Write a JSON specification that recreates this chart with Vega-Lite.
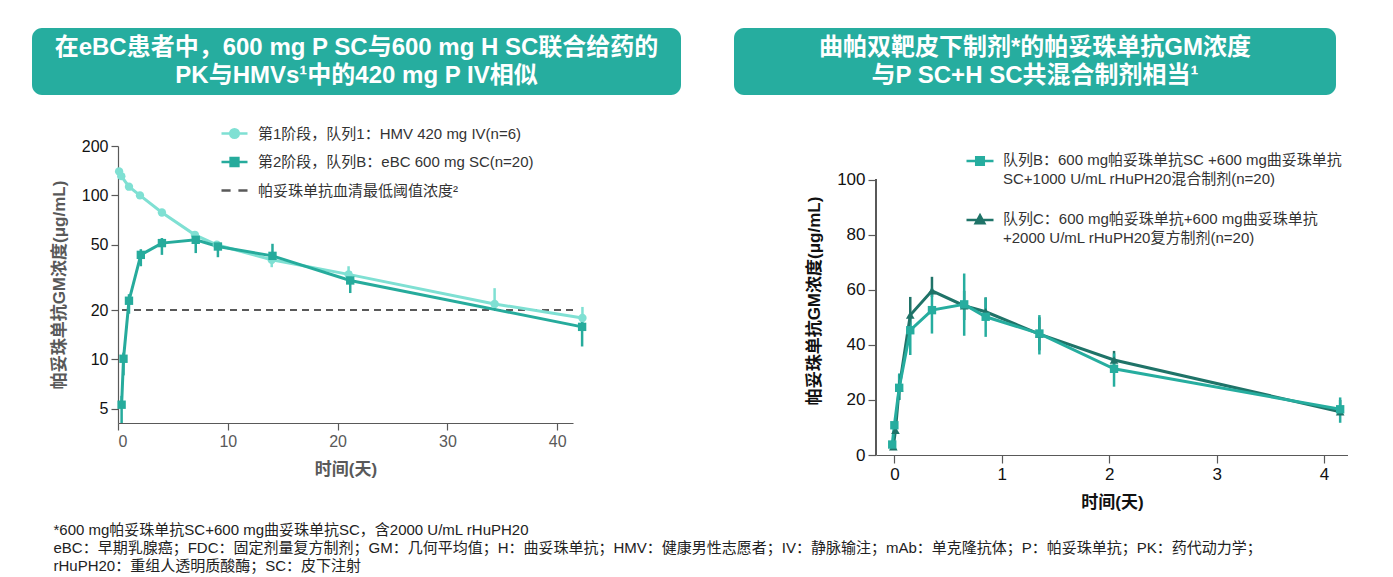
{
  "$schema": "https://vega.github.io/schema/vega-lite/v6.json",
  "padding": {"left": 31, "top": 28, "right": 0, "bottom": 0},
  "background": "white",
  "config": {
    "font": "Liberation Sans, Noto Sans CJK SC",
    "view": {"stroke": null},
    "axis": {"grid": false, "domainColor": "#595959", "tickColor": "#595959", "domainWidth": 1.2, "tickWidth": 1.2}
  },
  "title": {
    "text": ["*600 mg帕妥珠单抗SC+600 mg曲妥珠单抗SC，含2000 U/mL rHuPH20", "eBC：早期乳腺癌；FDC：固定剂量复方制剂；GM：几何平均值；H：曲妥珠单抗；HMV：健康男性志愿者；IV：静脉输注；mAb：单克隆抗体；P：帕妥珠单抗；PK：药代动力学；", "rHuPH20：重组人透明质酸酶；SC：皮下注射"],
    "orient": "bottom", "anchor": "start", "fontSize": 15, "fontWeight": "normal", "color": "#222", "lineHeight": 18, "offset": 13, "dx": 22
  },
  "spacing": 24,
  "resolve": {"scale": {"color": "independent", "shape": "independent"}, "legend": {"color": "independent", "shape": "independent"}},
  "vconcat": [
    {
      "hconcat": [
        {
          "width": 649, "height": 67,
          "view": {"fill": "#26ad9f", "cornerRadius": 10, "stroke": null},
          "data": {"values": [{"t": "在eBC患者中，600 mg P SC与600 mg H SC联合给药的\nPK与HMVs¹中的420 mg P IV相似"}]},
          "mark": {"type": "text", "lineBreak": "\n", "fontSize": 24, "fontWeight": "bold", "color": "white", "lineHeight": 28, "align": "center", "baseline": "middle", "dy": -14},
          "encoding": {"text": {"field": "t", "type": "nominal"}}
        },
        {
          "width": 602, "height": 67,
          "view": {"fill": "#26ad9f", "cornerRadius": 10, "stroke": null},
          "data": {"values": [{"t": "曲帕双靶皮下制剂*的帕妥珠单抗GM浓度\n与P SC+H SC共混合制剂相当¹"}]},
          "mark": {"type": "text", "lineBreak": "\n", "fontSize": 24, "fontWeight": "bold", "color": "white", "lineHeight": 28, "align": "center", "baseline": "middle", "dy": -14},
          "encoding": {"text": {"field": "t", "type": "nominal"}}
        }
      ],
      "spacing": 53
    },
    {
      "spacing": 0,
      "resolve": {"scale": {"color": "independent", "shape": "independent"}, "legend": {"color": "independent", "shape": "independent"}},
      "hconcat": [
        {"width": 18, "height": 1, "data": {"values": [{}]}, "mark": {"type": "rule", "opacity": 0}, "encoding": {}},
        {
          "spacing": 216,
          "resolve": {"scale": {"color": "independent", "shape": "independent"}, "legend": {"color": "independent", "shape": "independent"}},
          "hconcat": [
            {
              "width": 455, "height": 277,
              "data": {"values": [
                {"series": "第1阶段，队列1：HMV 420 mg IV(n=6)", "day": 0.1, "conc": 140},
                {"series": "第1阶段，队列1：HMV 420 mg IV(n=6)", "day": 0.3, "conc": 131},
                {"series": "第1阶段，队列1：HMV 420 mg IV(n=6)", "day": 1, "conc": 113},
                {"series": "第1阶段，队列1：HMV 420 mg IV(n=6)", "day": 2, "conc": 100},
                {"series": "第1阶段，队列1：HMV 420 mg IV(n=6)", "day": 4, "conc": 78.6},
                {"series": "第1阶段，队列1：HMV 420 mg IV(n=6)", "day": 7, "conc": 57.5},
                {"series": "第1阶段，队列1：HMV 420 mg IV(n=6)", "day": 9, "conc": 50},
                {"series": "第1阶段，队列1：HMV 420 mg IV(n=6)", "day": 14, "conc": 40.5, "lo": 36.5, "hi": 43},
                {"series": "第1阶段，队列1：HMV 420 mg IV(n=6)", "day": 21, "conc": 33, "lo": 30, "hi": 37},
                {"series": "第1阶段，队列1：HMV 420 mg IV(n=6)", "day": 34.3, "conc": 21.8, "lo": 20, "hi": 27.2},
                {"series": "第1阶段，队列1：HMV 420 mg IV(n=6)", "day": 42.3, "conc": 17.9, "lo": 15.5, "hi": 20.9},
                {"series": "第2阶段，队列B：eBC 600 mg SC(n=20)", "day": 0.33, "conc": 5.3, "lo": 4.1, "hi": 6},
                {"series": "第2阶段，队列B：eBC 600 mg SC(n=20)", "day": 0.5, "conc": 10.1, "lo": 8, "hi": 11},
                {"series": "第2阶段，队列B：eBC 600 mg SC(n=20)", "day": 1.0, "conc": 22.8, "lo": 19, "hi": 25},
                {"series": "第2阶段，队列B：eBC 600 mg SC(n=20)", "day": 2.08, "conc": 43.4, "lo": 37, "hi": 47},
                {"series": "第2阶段，队列B：eBC 600 mg SC(n=20)", "day": 4.0, "conc": 51.2, "lo": 43.4, "hi": 55},
                {"series": "第2阶段，队列B：eBC 600 mg SC(n=20)", "day": 7.08, "conc": 53.6, "lo": 44.5, "hi": 57.5},
                {"series": "第2阶段，队列B：eBC 600 mg SC(n=20)", "day": 9.1, "conc": 48.8, "lo": 42, "hi": 52.4},
                {"series": "第2阶段，队列B：eBC 600 mg SC(n=20)", "day": 14.07, "conc": 42.8, "lo": 38.6, "hi": 50.7},
                {"series": "第2阶段，队列B：eBC 600 mg SC(n=20)", "day": 21.15, "conc": 30.3, "lo": 25.4, "hi": 34.4},
                {"series": "第2阶段，队列B：eBC 600 mg SC(n=20)", "day": 42.27, "conc": 15.8, "lo": 12.0, "hi": 17.5}
              ]},
              "encoding": {
                "x": {"field": "day", "type": "quantitative", "title": "时间(天)",
                  "scale": {"domain": [0, 41.44], "nice": false, "zero": false},
                  "axis": {"values": [0, 10, 20, 30, 40], "labelFontSize": 16, "labelColor": "#595959", "titleFontSize": 17, "titleFontWeight": "bold", "titleColor": "#595959", "tickSize": 7, "labelPadding": 3, "titlePadding": 12}},
                "y": {"field": "conc", "type": "quantitative", "title": "帕妥珠单抗GM浓度(μg/mL)",
                  "scale": {"type": "log", "domain": [4.1, 200], "nice": false},
                  "axis": {"values": [5, 10, 20, 50, 100, 200], "labelFontSize": 16, "labelColor": "#111", "titleFontSize": 17, "titleFontWeight": "bold", "titleColor": "#595959", "tickSize": 7, "labelPadding": 3, "titlePadding": 13}},
                "color": {"field": "series", "type": "nominal",
                  "scale": {"domain": ["第1阶段，队列1：HMV 420 mg IV(n=6)", "第2阶段，队列B：eBC 600 mg SC(n=20)", "帕妥珠单抗血清最低阈值浓度²"], "range": ["#7fe0d3", "#26ab9c", "#595959"]}}
              },
              "layer": [
                {
                  "data": {"values": [{"series": "帕妥珠单抗血清最低阈值浓度²", "conc": 20}]},
                  "mark": {"type": "rule", "strokeDash": [7, 5], "strokeWidth": 2},
                  "encoding": {"x": null}
                },
                {
                  "mark": {"type": "rule", "strokeWidth": 2.5},
                  "encoding": {
                    "y": {"field": "lo", "type": "quantitative", "title": "帕妥珠单抗GM浓度(μg/mL)"},
                    "y2": {"field": "hi"}
                  }
                },
                {
                  "mark": {"type": "line", "strokeWidth": 3},
                  "encoding": {
                    "color": {"field": "series", "type": "nominal",
                      "legend": {"orient": "none", "legendX": 102, "legendY": -27, "direction": "vertical", "title": null, "labelFontSize": 15, "labelColor": "#333", "symbolSize": 676, "symbolStrokeWidth": 2.5, "labelOffset": 9, "rowPadding": 4.5, "labelLimit": 600,
                        "encode": {"symbols": {"update": {
                          "shape": {"signal": "datum.value === '第1阶段，队列1：HMV 420 mg IV(n=6)' ? 'M-1,0H1M0.33,0A0.33,0.33,0,1,1,-0.33,0A0.33,0.33,0,1,1,0.33,0Z' : datum.value === '第2阶段，队列B：eBC 600 mg SC(n=20)' ? 'M-1,0H1M-0.3,-0.3H0.3V0.3H-0.3Z' : 'M-1,0H-0.3M0.3,0H1'"},
                          "fill": {"signal": "datum.value === '第1阶段，队列1：HMV 420 mg IV(n=6)' ? '#7fe0d3' : datum.value === '第2阶段，队列B：eBC 600 mg SC(n=20)' ? '#26ab9c' : 'transparent'"},
                          "stroke": {"signal": "datum.value === '第1阶段，队列1：HMV 420 mg IV(n=6)' ? '#7fe0d3' : datum.value === '第2阶段，队列B：eBC 600 mg SC(n=20)' ? '#26ab9c' : '#595959'"},
                          "strokeWidth": {"value": 2.5},
                          "opacity": {"value": 1}
                        }}}}}
                  }
                },
                {
                  "mark": {"type": "point", "filled": true, "opacity": 1, "size": 70},
                  "encoding": {
                    "shape": {"field": "series", "type": "nominal", "scale": {"domain": ["第1阶段，队列1：HMV 420 mg IV(n=6)", "第2阶段，队列B：eBC 600 mg SC(n=20)"], "range": ["circle", "square"]}, "legend": null}
                  }
                }
              ]
            },
            {
              "width": 472, "height": 309,
              "data": {"values": [
                {"cohort": "队列C：600 mg帕妥珠单抗+600 mg曲妥珠单抗\n+2000 U/mL  rHuPH20复方制剂(n=20)", "day": -0.01, "conc": 3.0},
                {"cohort": "队列C：600 mg帕妥珠单抗+600 mg曲妥珠单抗\n+2000 U/mL  rHuPH20复方制剂(n=20)", "day": 0.01, "conc": 9.0},
                {"cohort": "队列C：600 mg帕妥珠单抗+600 mg曲妥珠单抗\n+2000 U/mL  rHuPH20复方制剂(n=20)", "day": 0.045, "conc": 24.4, "lo": 20, "hi": 29},
                {"cohort": "队列C：600 mg帕妥珠单抗+600 mg曲妥珠单抗\n+2000 U/mL  rHuPH20复方制剂(n=20)", "day": 0.148, "conc": 50.8, "lo": 44, "hi": 57.4},
                {"cohort": "队列C：600 mg帕妥珠单抗+600 mg曲妥珠单抗\n+2000 U/mL  rHuPH20复方制剂(n=20)", "day": 0.35, "conc": 59.6, "lo": 57.4, "hi": 64.7},
                {"cohort": "队列C：600 mg帕妥珠单抗+600 mg曲妥珠单抗\n+2000 U/mL  rHuPH20复方制剂(n=20)", "day": 0.65, "conc": 54.2, "lo": 49, "hi": 59.6},
                {"cohort": "队列C：600 mg帕妥珠单抗+600 mg曲妥珠单抗\n+2000 U/mL  rHuPH20复方制剂(n=20)", "day": 0.85, "conc": 52, "lo": 50, "hi": 57.2},
                {"cohort": "队列C：600 mg帕妥珠单抗+600 mg曲妥珠单抗\n+2000 U/mL  rHuPH20复方制剂(n=20)", "day": 1.35, "conc": 43.9, "lo": 38, "hi": 50},
                {"cohort": "队列C：600 mg帕妥珠单抗+600 mg曲妥珠单抗\n+2000 U/mL  rHuPH20复方制剂(n=20)", "day": 2.045, "conc": 34.5, "lo": 32, "hi": 37.8},
                {"cohort": "队列C：600 mg帕妥珠单抗+600 mg曲妥珠单抗\n+2000 U/mL  rHuPH20复方制剂(n=20)", "day": 4.15, "conc": 15.7, "lo": 15, "hi": 20},
                {"cohort": "队列B：600 mg帕妥珠单抗SC +600 mg曲妥珠单抗\nSC+1000 U/mL  rHuPH20混合制剂(n=20)", "day": -0.02, "conc": 3.8},
                {"cohort": "队列B：600 mg帕妥珠单抗SC +600 mg曲妥珠单抗\nSC+1000 U/mL  rHuPH20混合制剂(n=20)", "day": 0.0, "conc": 10.8},
                {"cohort": "队列B：600 mg帕妥珠单抗SC +600 mg曲妥珠单抗\nSC+1000 U/mL  rHuPH20混合制剂(n=20)", "day": 0.045, "conc": 24.4, "lo": 20, "hi": 29.6},
                {"cohort": "队列B：600 mg帕妥珠单抗SC +600 mg曲妥珠单抗\nSC+1000 U/mL  rHuPH20混合制剂(n=20)", "day": 0.148, "conc": 45.3, "lo": 36.3, "hi": 50},
                {"cohort": "队列B：600 mg帕妥珠单抗SC +600 mg曲妥珠单抗\nSC+1000 U/mL  rHuPH20混合制剂(n=20)", "day": 0.35, "conc": 52.6, "lo": 44.1, "hi": 60.5},
                {"cohort": "队列B：600 mg帕妥珠单抗SC +600 mg曲妥珠单抗\nSC+1000 U/mL  rHuPH20混合制剂(n=20)", "day": 0.65, "conc": 54.7, "lo": 43.3, "hi": 65.9},
                {"cohort": "队列B：600 mg帕妥珠单抗SC +600 mg曲妥珠单抗\nSC+1000 U/mL  rHuPH20混合制剂(n=20)", "day": 0.85, "conc": 50.2, "lo": 42.9, "hi": 57.2},
                {"cohort": "队列B：600 mg帕妥珠单抗SC +600 mg曲妥珠单抗\nSC+1000 U/mL  rHuPH20混合制剂(n=20)", "day": 1.35, "conc": 44.1, "lo": 36.5, "hi": 50.8},
                {"cohort": "队列B：600 mg帕妥珠单抗SC +600 mg曲妥珠单抗\nSC+1000 U/mL  rHuPH20混合制剂(n=20)", "day": 2.045, "conc": 31.3, "lo": 24.8, "hi": 36.9},
                {"cohort": "队列B：600 mg帕妥珠单抗SC +600 mg曲妥珠单抗\nSC+1000 U/mL  rHuPH20混合制剂(n=20)", "day": 4.15, "conc": 16.6, "lo": 11.7, "hi": 20.9}
              ]},
              "encoding": {
                "x": {"field": "day", "type": "quantitative", "title": "时间(天)",
                  "scale": {"domain": [-0.171, 4.223], "nice": false, "zero": false},
                  "axis": {"values": [0, 1, 2, 3, 4], "labelFontSize": 17, "labelColor": "#111", "titleFontSize": 17, "titleFontWeight": "bold", "titleColor": "#111", "tickSize": 8, "labelPadding": 3, "titlePadding": 12}},
                "y": {"field": "conc", "type": "quantitative", "title": "帕妥珠单抗GM浓度(μg/mL)",
                  "scale": {"domain": [0, 112.2], "nice": false},
                  "axis": {"values": [0, 20, 40, 60, 80, 100], "domain": false, "labelFontSize": 17, "labelColor": "#111", "titleFontSize": 17, "titleFontWeight": "bold", "titleColor": "#111", "tickSize": 8, "labelPadding": 3, "titlePadding": 13}},
                "color": {"field": "cohort", "type": "nominal",
                  "scale": {"domain": ["队列B：600 mg帕妥珠单抗SC +600 mg曲妥珠单抗\nSC+1000 U/mL  rHuPH20混合制剂(n=20)", "队列C：600 mg帕妥珠单抗+600 mg曲妥珠单抗\n+2000 U/mL  rHuPH20复方制剂(n=20)"], "range": ["#26ad9f", "#1f7368"]}}
              },
              "layer": [
                {
                  "mark": {"type": "rule", "color": "#595959", "strokeWidth": 1.2},
                  "encoding": {"x": {"datum": -0.171, "type": "quantitative"}, "y": {"datum": 0, "type": "quantitative"}, "y2": {"datum": 100}, "color": null}
                },
                {
                  "mark": {"type": "rule", "strokeWidth": 2.5},
                  "encoding": {
                    "y": {"field": "lo", "type": "quantitative", "title": "帕妥珠单抗GM浓度(μg/mL)"},
                    "y2": {"field": "hi"}
                  }
                },
                {
                  "mark": {"type": "line", "strokeWidth": 3},
                  "encoding": {
                    "color": {"field": "cohort", "type": "nominal",
                      "legend": {"orient": "none", "legendX": 89, "legendY": 0, "direction": "vertical", "title": null, "labelFontSize": 15, "labelColor": "#333", "symbolSize": 729, "symbolStrokeWidth": 2.5, "labelOffset": 8, "rowPadding": 18, "labelLimit": 600, "labelExpr": "split(datum.label, '\\n')", "labelBaseline": "top",
                        "encode": {
                          "labels": {"update": {"dy": {"value": -8}, "lineHeight": {"value": 19}}},
                          "symbols": {"update": {
                          "shape": {"signal": "datum.value === '队列C：600 mg帕妥珠单抗+600 mg曲妥珠单抗\\n+2000 U/mL  rHuPH20复方制剂(n=20)' ? 'M-1,0H1M0,-0.34L0.32,0.24H-0.32Z' : 'M-1,0H1M-0.28,-0.28H0.28V0.28H-0.28Z'"},
                          "fill": {"signal": "datum.value === '队列C：600 mg帕妥珠单抗+600 mg曲妥珠单抗\\n+2000 U/mL  rHuPH20复方制剂(n=20)' ? '#1f7368' : '#26ad9f'"},
                          "stroke": {"signal": "datum.value === '队列C：600 mg帕妥珠单抗+600 mg曲妥珠单抗\\n+2000 U/mL  rHuPH20复方制剂(n=20)' ? '#1f7368' : '#26ad9f'"},
                          "strokeWidth": {"value": 2.5},
                          "opacity": {"value": 1}
                        }}}}}
                  }
                },
                {
                  "transform": [{"filter": {"field": "cohort", "equal": "队列C：600 mg帕妥珠单抗+600 mg曲妥珠单抗\n+2000 U/mL  rHuPH20复方制剂(n=20)"}}],
                  "mark": {"type": "point", "filled": true, "opacity": 1, "size": 75, "shape": "triangle-up"},
                  "encoding": {}
                },
                {
                  "transform": [{"filter": {"field": "cohort", "equal": "队列B：600 mg帕妥珠单抗SC +600 mg曲妥珠单抗\nSC+1000 U/mL  rHuPH20混合制剂(n=20)"}}],
                  "mark": {"type": "point", "filled": true, "opacity": 1, "size": 70, "shape": "square"},
                  "encoding": {}
                }
              ]
            }
          ]
        }
      ]
    }
  ]
}
